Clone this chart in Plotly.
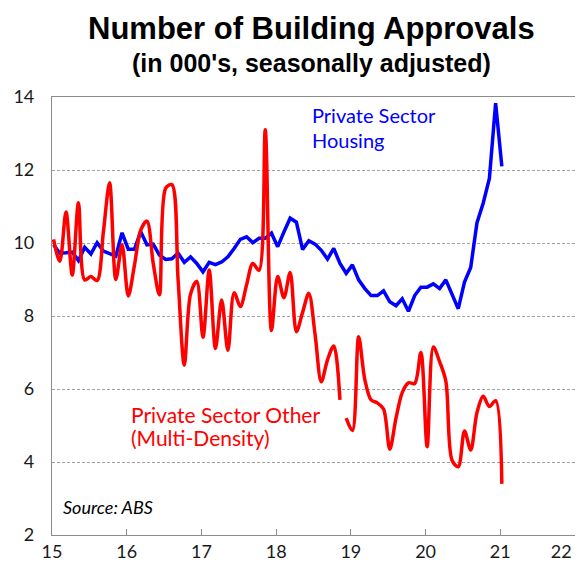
import plotly.graph_objects as go

# Monthly observations, Jan 2015 .. Jan 2021 (73 months)
month_index = list(range(73))

private_housing = [
    9.95, 9.72, 9.73, 9.75, 9.52, 9.88, 9.70, 10.01, 9.78, 9.72, 9.64, 10.28,
    9.83, 9.83, 10.31, 9.95, 9.97, 9.67, 9.55, 9.57, 9.72, 9.47, 9.62, 9.44,
    9.21, 9.47, 9.41, 9.48, 9.62, 9.85, 10.10, 10.17, 10.01, 10.13, 10.13, 10.27,
    9.90, 10.30, 10.68, 10.57, 9.82, 10.06, 9.97, 9.80, 9.56, 9.85, 9.44, 9.17,
    9.40, 8.99, 8.75, 8.56, 8.56, 8.69, 8.39, 8.28, 8.47, 8.13, 8.56, 8.79,
    8.79, 8.88, 8.75, 8.99, 8.60, 8.20, 8.93, 9.33, 10.55, 11.09, 11.77, 13.83,
    12.10,
]

private_other = [
    10.10, 9.50, 10.85, 9.12, 11.10, 8.99, 9.08, 8.97, 10.30, 11.65, 9.00, 9.95,
    8.55, 9.40, 10.35, 10.60, 9.45, 8.58, 11.50, 11.60, 9.00, 6.65, 8.60, 8.95,
    7.42, 9.26, 7.11, 8.44, 7.06, 8.64, 8.26, 8.85, 9.44, 9.25, 13.10, 7.60,
    9.08, 8.50, 9.19, 7.57, 8.10, 8.62, 7.50, 6.20, 6.80, 7.18, 5.70, 5.20,
    4.86, 7.43, 6.25, 5.70, 5.62, 5.45, 4.35, 5.20, 5.90, 6.17, 6.15, 7.00,
    4.42, 7.15, 6.75, 6.22, 4.05, 3.87, 4.85, 4.33, 5.35, 5.80, 5.52, 5.68,
    3.40,
]
other_break_after = 46  # series break (gap) between Nov-18 and Dec-18

x_ticks = [15, 16, 17, 18, 19, 20, 21, 22]
x_tick_labels = ["15", "16", "17", "18", "19", "20", "21", "22" + "\u00a0" * 6]
y_ticks = [2, 4, 6, 8, 10, 12, 14]

# decimal-year position of each month (years since 2000)
xs = [15 + (i + 0.25) / 12 for i in month_index]

fig = go.Figure()
fig.add_trace(go.Scatter(
    x=xs, y=private_housing, mode="lines",
    line=dict(color="#0000FF", width=3.5), hoverinfo="skip", showlegend=False))
fig.add_trace(go.Scatter(
    x=xs[:other_break_after + 1], y=private_other[:other_break_after + 1], mode="lines",
    line=dict(color="#FF0000", width=3.5, shape="spline", smoothing=0.9),
    hoverinfo="skip", showlegend=False))
fig.add_trace(go.Scatter(
    x=xs[other_break_after + 1:], y=private_other[other_break_after + 1:], mode="lines",
    line=dict(color="#FF0000", width=3.5, shape="spline", smoothing=0.9),
    hoverinfo="skip", showlegend=False))

tick_font = dict(family="Lato, Open Sans, sans-serif", size=18, color="#1a1a1a")
lab_font = dict(family="Lato, Open Sans, sans-serif", size=20)
red_font = dict(family="Lato, Open Sans, sans-serif", size=21)

fig.update_layout(
    width=575, height=564,
    margin=dict(l=44, r=8, t=89, b=37),
    paper_bgcolor="white", plot_bgcolor="white",
    xaxis=dict(
        range=[15, 22], tickvals=x_ticks, ticktext=x_tick_labels,
        showgrid=False, showline=True, linecolor="#8c8c8c", linewidth=1.2, mirror=True,
        ticks="inside", ticklen=6, tickcolor="#8c8c8c",
        tickfont=tick_font, zeroline=False, automargin=False,
        ticklabeloverflow="allow",
    ),
    yaxis=dict(
        range=[2, 14], tickvals=y_ticks, ticktext=[str(t) for t in y_ticks],
        showgrid=True, gridcolor="#a0a0a0", griddash="3px,2px", gridwidth=1,
        showline=True, linecolor="#8c8c8c", linewidth=1.2, mirror=True,
        ticks="", tickfont=tick_font, zeroline=False,
        ticklabelstandoff=13, automargin=False,
    ),
    annotations=[
        dict(text="<b>Number of Building Approvals</b>", xref="paper", yref="paper",
             x=0.497, y=1.157, xanchor="center", yanchor="middle", showarrow=False,
             font=dict(family="Liberation Sans, Arial, sans-serif", size=31, color="black")),
        dict(text="<b>(in 000's, seasonally adjusted)</b>", xref="paper", yref="paper",
             x=0.497, y=1.078, xanchor="center", yanchor="middle", showarrow=False,
             font=dict(family="Liberation Sans, Arial, sans-serif", size=25, color="black")),
        dict(text="Private Sector", x=18.45, y=13.51, xanchor="left", yanchor="middle",
             showarrow=False, font=dict(lab_font, color="#0000FF")),
        dict(text="Housing", x=18.45, y=12.82, xanchor="left", yanchor="middle",
             showarrow=False, font=dict(lab_font, color="#0000FF")),
        dict(text="Private Sector Other", x=16.03, y=5.29, xanchor="left", yanchor="middle",
             showarrow=False, font=dict(red_font, color="#FF0000")),
        dict(text="(Multi-Density)", x=16.03, y=4.68, xanchor="left", yanchor="middle",
             showarrow=False, font=dict(red_font, color="#FF0000")),
        dict(text="<i>Source: ABS</i>", x=15.12, y=2.77, xanchor="left", yanchor="middle",
             showarrow=False, font=dict(family="Lato, Open Sans, sans-serif", size=18, color="black")),
    ],
)

fig.write_html("out.html")
